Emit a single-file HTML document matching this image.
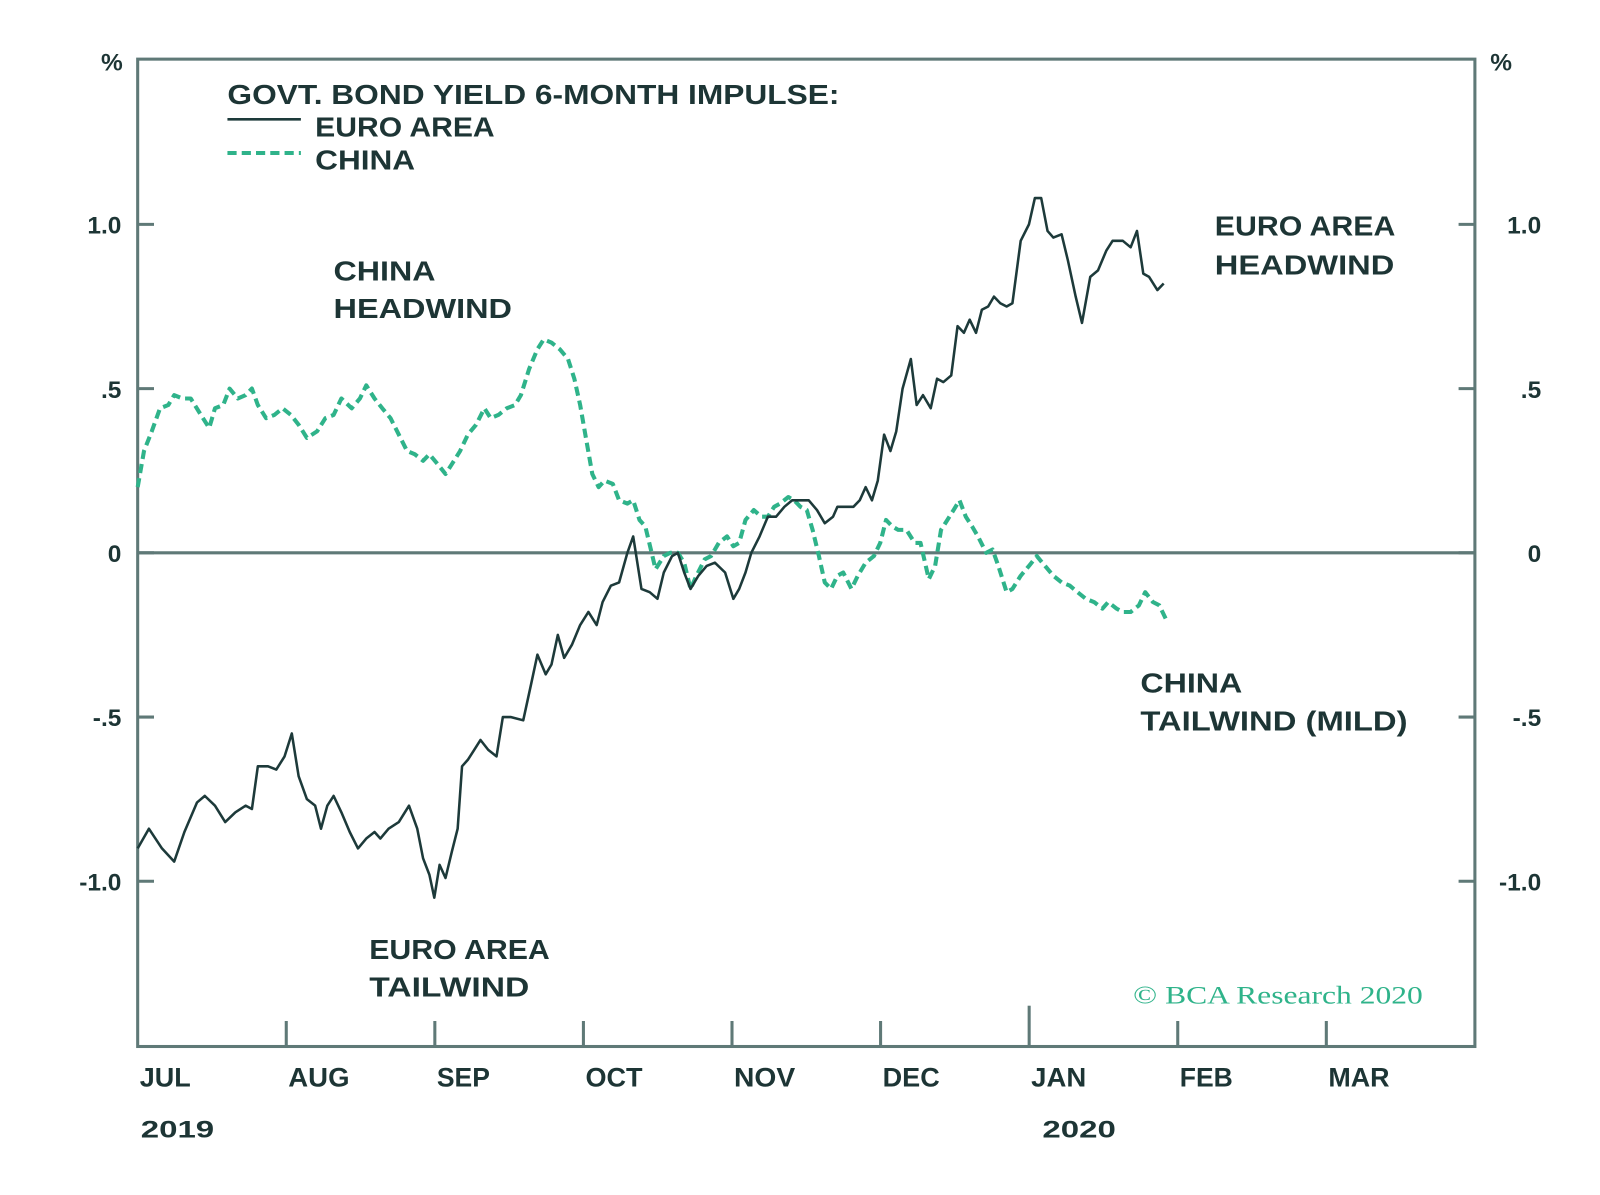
<!DOCTYPE html>
<html><head><meta charset="utf-8"><style>
html,body{margin:0;padding:0;background:#fff;}
svg text{font-family:"Liberation Sans",sans-serif;fill:#1d3535;font-weight:bold;}
</style></head><body>
<svg id="chart" width="1600" height="1190" viewBox="0 0 1600 1190" xmlns="http://www.w3.org/2000/svg">
<g transform="translate(1,1) scale(1.02)">
<g id="axes"></g><g id="series"></g><g id="labels"></g>
</g>
</svg>
<script>
const monthLabels=["JUL","AUG","SEP","OCT","NOV","DEC","JAN","FEB","MAR"];
const yTicks=[1.0,0.5,0,-0.5,-1.0];
const yTickLabels=["1.0",".5","0","-.5","-1.0"];
const euroDays=[0,2.3,5,7.5,9.6,12.2,13.8,15.9,18,20.1,22.2,23.5,24.7,26.8,28.5,30.2,31.7,33.1,34.8,36.5,37.7,39,40.3,41.9,43.6,45.3,47,48.7,49.9,51.6,53.7,55.8,57.5,58.7,60,61,62.1,63.3,64.6,65.8,66.7,67.9,69.2,70.5,72.1,73.8,75.1,76.7,79.3,80.9,82.2,83.9,85.1,86.4,87.7,89.3,91,92.7,94.4,95.6,97.3,99,100.7,101.9,103.6,105.3,106.9,108.2,109.9,111.1,112.4,113.7,115.3,117,118.7,120.8,122.5,123.7,125,126.2,127.9,129.6,131.3,133,134.6,136.3,138,139.7,141.3,143,143.9,145.5,147.2,148.5,149.7,151,152.2,153.5,154.8,156,157.3,159,160.2,161.5,163.1,164.4,165.7,167.3,168.6,169.9,171.1,172.4,173.6,174.9,176.1,177.4,178.7,179.9,181.6,183.3,184.5,185.8,187.1,188.3,190,191.3,192.9,194.2,195.9,197.5,199.2,200.5,202.6,204.2,205.5,206.8,208,209.7,211];
const euroValues=[-0.90,-0.84,-0.90,-0.94,-0.85,-0.76,-0.74,-0.77,-0.82,-0.79,-0.77,-0.78,-0.65,-0.65,-0.66,-0.62,-0.55,-0.68,-0.75,-0.77,-0.84,-0.77,-0.74,-0.79,-0.85,-0.90,-0.87,-0.85,-0.87,-0.84,-0.82,-0.77,-0.84,-0.93,-0.98,-1.05,-0.95,-0.99,-0.91,-0.84,-0.65,-0.63,-0.60,-0.57,-0.60,-0.62,-0.50,-0.50,-0.51,-0.40,-0.31,-0.37,-0.34,-0.25,-0.32,-0.28,-0.22,-0.18,-0.22,-0.15,-0.10,-0.09,0.00,0.05,-0.11,-0.12,-0.14,-0.06,-0.01,0.00,-0.06,-0.11,-0.07,-0.04,-0.03,-0.06,-0.14,-0.11,-0.06,0.00,0.05,0.11,0.11,0.14,0.16,0.16,0.16,0.13,0.09,0.11,0.14,0.14,0.14,0.16,0.20,0.16,0.22,0.36,0.31,0.37,0.50,0.59,0.45,0.48,0.44,0.53,0.52,0.54,0.69,0.67,0.71,0.67,0.74,0.75,0.78,0.76,0.75,0.76,0.95,1.00,1.08,1.08,0.98,0.96,0.97,0.89,0.78,0.70,0.84,0.86,0.92,0.95,0.95,0.93,0.98,0.85,0.84,0.80,0.82];
const chinaDays=[0,1.3,2.9,4.6,6.3,7.5,9.2,10.9,13,14.7,15.9,17.6,18.9,20.6,22.2,23.5,24.7,26.4,28.1,29.8,31.5,33.1,34.8,36.9,38.6,40.3,41.9,44,45.7,47,48.7,50.3,52,53.7,55.4,57,58.7,60,61.7,63.3,64.6,66.3,67.9,69.6,71.3,72.6,74.2,75.9,77.6,78.8,80.5,82.2,83.5,85.1,86.8,88.5,89.8,91,92.3,93.5,94.8,96,97.7,99,100.7,101.9,103.2,104.4,105.7,106.5,108.2,109.5,111.1,112.4,113.7,114.9,116.6,117.9,119.5,121.2,122.5,123.7,125,126.7,128.3,129.6,130.9,132.1,133.8,135,136.3,137.6,138.8,140.1,141.3,142.6,143.9,145.1,146.8,148.1,149.7,151.4,152.7,153.9,155.2,156.4,158.1,159.8,161,162.7,164,165.2,166.5,167.8,169,170.3,171.6,172.8,174.5,175.8,177,178.7,179.9,181.6,183.3,184.9,186.6,188.3,190,191.7,193.3,195,196.7,198.4,199.6,201.3,202.6,204.2,205.9,207.2,208.8,210.1,211.4];
const chinaValues=[0.20,0.31,0.37,0.44,0.45,0.48,0.47,0.47,0.42,0.38,0.44,0.45,0.50,0.47,0.48,0.50,0.45,0.41,0.42,0.44,0.42,0.39,0.35,0.37,0.41,0.42,0.47,0.44,0.47,0.51,0.47,0.44,0.41,0.36,0.31,0.30,0.28,0.30,0.27,0.24,0.27,0.31,0.36,0.39,0.44,0.41,0.42,0.44,0.45,0.48,0.56,0.62,0.65,0.64,0.62,0.59,0.53,0.45,0.34,0.24,0.20,0.22,0.21,0.16,0.15,0.16,0.10,0.08,0.00,-0.05,-0.01,0.00,0.00,-0.03,-0.11,-0.07,-0.02,-0.01,0.03,0.05,0.02,0.03,0.10,0.13,0.11,0.11,0.14,0.15,0.17,0.16,0.14,0.13,0.07,-0.01,-0.09,-0.11,-0.07,-0.06,-0.11,-0.07,-0.03,-0.01,0.03,0.10,0.08,0.07,0.07,0.03,0.03,-0.08,-0.04,0.07,0.10,0.13,0.16,0.11,0.08,0.05,0.00,0.01,-0.04,-0.12,-0.11,-0.07,-0.04,-0.01,-0.04,-0.07,-0.09,-0.10,-0.12,-0.14,-0.15,-0.17,-0.15,-0.17,-0.18,-0.18,-0.16,-0.12,-0.15,-0.16,-0.20];

const L=134,R=1445,T=57,B=1025,Y0=541,PXU=322,TOTAL=275;
const xs=d=>L+d*(R-L)/TOTAL;
const xm=m=>L+m*(R-L)/9;
const ys=v=>Y0-v*PXU;
const NS="http://www.w3.org/2000/svg";
function mk(tag,parent,attrs){const e=document.createElementNS(NS,tag);for(const k in attrs)e.setAttribute(k,attrs[k]);parent.appendChild(e);return e;}
const axes=document.getElementById('axes'),series=document.getElementById('series'),labels=document.getElementById('labels');
const AX="#5f7977";

let frame=mk('rect',axes,{x:L,y:T,width:R-L,height:B-T,fill:'none',stroke:AX,'stroke-width':3});


let zl=mk('line',axes,{x1:L,x2:R,y1:ys(0),y2:ys(0),stroke:AX,'stroke-width':3});



yTicks.forEach((v,i)=>{
  const y=ys(v);
  let t1=mk('line',axes,{x1:L,x2:L+16,y1:y,y2:y,stroke:AX,'stroke-width':3});
  
  
  let t2=mk('line',axes,{x1:R-16,x2:R,y1:y,y2:y,stroke:AX,'stroke-width':3});
  
  
  let a=mk('text',labels,{x:118,y:y+9,'text-anchor':'end','font-size':24});
  a.textContent=yTickLabels[i];
  
  
  let b=mk('text',labels,{x:1510,y:y+9,'text-anchor':'end','font-size':24});
  b.textContent=yTickLabels[i];
  
  
});

const monthWidths=[50,60,52,56,60,56,54,52,60];
monthLabels.forEach((m,i)=>{
  const x=xm(i);
  if(i>0){
    let t=mk('line',axes,{x1:x,x2:x,y1:(m==="JAN"?985:1000),y2:B,stroke:AX,'stroke-width':3});
    
    
  }
  let lb=mk('text',labels,{x:x+2,y:1064,'font-size':26,textLength:monthWidths[i],lengthAdjust:'spacingAndGlyphs'});
  lb.textContent=m;
  
  
});

function path(days,vals){return days.map((d,i)=>(i?'L':'M')+xs(d).toFixed(1)+' '+ys(vals[i]).toFixed(1)).join(' ');}
let cl=mk('path',series,{d:path(chinaDays,chinaValues),fill:'none',stroke:'#2fb38a','stroke-width':4,'stroke-dasharray':'9 5','stroke-linejoin':'round'});


let el=mk('path',series,{d:path(euroDays,euroValues),fill:'none',stroke:'#1d3a3a','stroke-width':2.5,'stroke-linejoin':'round'});



const texts=[
 ["percent-left","%",98,68,24,0],["percent-right","%",1460,68,24,0],
 ["legend-title","GOVT. BOND YIELD 6-MONTH IMPULSE:",222,101,27,600],
 ["legend-euro-label","EURO AREA",308,133,27,176],
 ["legend-china-label","CHINA",308,165,27,98],
 ["china-headwind-1","CHINA",326,274,27,100],["china-headwind-2","HEADWIND",326,311,27,175],
 ["euro-headwind-1","EURO AREA",1190,230,27,177],["euro-headwind-2","HEADWIND",1190,268,27,176],
 ["china-tailwind-1","CHINA",1117,678,27,100],["china-tailwind-2","TAILWIND (MILD)",1117,715,27,262],
 ["euro-tailwind-1","EURO AREA",361,939,27,177],["euro-tailwind-2","TAILWIND",361,976,27,157],
 ["year-2019","2019",137,1114,24,72],["year-2020","2020",1021,1114,24,72]
];
texts.forEach(t=>{
  const at={x:t[2],y:t[3],'font-size':t[4]};
  if(t[5]){at.textLength=t[5];at.lengthAdjust='spacingAndGlyphs';}
  let e=mk('text',labels,at);
  e.textContent=t[1];
  
  
});
let cr=mk('text',labels,{x:1110,y:983,'font-size':25,textLength:284,lengthAdjust:'spacingAndGlyphs',style:'font-family:"Liberation Serif",serif;fill:#2fb38a;font-weight:normal'});
cr.textContent="© BCA Research 2020";


let le=mk('line',labels,{x1:222,x2:294,y1:116,y2:116,stroke:'#1d3a3a','stroke-width':2.5});


let lc=mk('line',labels,{x1:222,x2:294,y1:149,y2:149,stroke:'#2fb38a','stroke-width':4,'stroke-dasharray':'9 5'});


</script>
</body></html>
